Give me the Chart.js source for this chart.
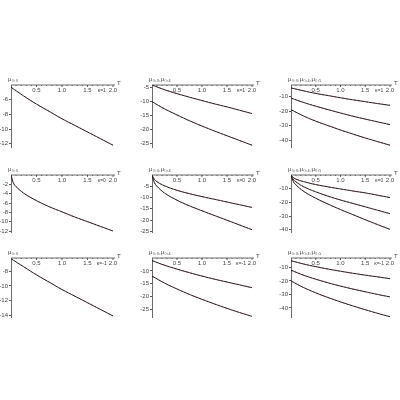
<!DOCTYPE html>
<html><head><meta charset="utf-8">
<script src="https://cdn.jsdelivr.net/npm/chart.js@4"></script>
<style>body{margin:0;background:#fff;width:400px;height:400px;position:relative;overflow:hidden}canvas{position:absolute}</style>
</head><body>
<script>
const T9 = [0,0.25,0.5,0.75,1,1.25,1.5,1.75,2];
const T11 = [0,0.05,0.1,0.25,0.5,0.75,1,1.25,1.5,1.75,2];
const xTicks = [0.5,1.0,1.5,2.0];
const titles = ["μ₀,₃","μ₀,₃,μ₀,₄","μ₀,₃,μ₀,₄,μ₀,₅"];
const kappas = ["κ=1","κ=0","κ=-1"];
// row 1 (κ=1)
const p11 = [[-4.3,-5.5,-6.6,-7.6,-8.6,-9.5,-10.4,-11.3,-12.2]];
const p12 = [[-4,-5.7,-7.1,-8.4,-9.6,-10.8,-11.9,-13.1,-14.3],[-10,-12.6,-14.8,-16.9,-18.8,-20.6,-22.3,-24.0,-25.7]];
const p13 = [[-4,-6,-7.8,-9.3,-10.8,-12.2,-13.5,-14.8,-16],[-11,-14,-16.6,-19,-21.3,-23.5,-25.5,-27.4,-29.3],[-19,-23.3,-26.9,-30,-33,-35.8,-38.5,-41,-43.5]];
// row 2 (κ=0)
const p21 = [[0,-1.8,-2.5,-3.9,-5.5,-6.8,-7.9,-9,-10,-11,-12]];
const p22 = [[0,-2,-3,-4.8,-6.8,-8.3,-9.6,-10.8,-12,-13.2,-14.4],[0,-3.5,-5,-8,-11.2,-13.7,-15.9,-18,-20.1,-22.2,-24.3]];
const p23 = [[0,-2,-3,-4.8,-7,-8.7,-10.2,-11.7,-13.1,-14.8,-16.5],[0,-3.5,-5,-8.5,-12.3,-15.5,-18.3,-20.8,-23.3,-25.8,-28.3],[0,-5,-7.2,-11.8,-17,-21.3,-25.3,-29,-32.7,-36.3,-39.8]];
// row 3 (κ=-1)
const p31 = [[-6.3,-7.4,-8.5,-9.5,-10.5,-11.4,-12.3,-13.2,-14.1]];
const p32 = [[-6,-7.8,-9.3,-10.7,-12,-13.2,-14.3,-15.4,-16.5],[-12,-14.7,-17,-19.1,-21,-22.8,-24.5,-26.1,-27.6]];
const p33 = [[-5,-7.4,-9.4,-11.2,-12.8,-14.3,-15.7,-17,-18.3],[-12,-15.7,-18.7,-21.4,-23.8,-26,-28,-30,-31.8],[-20,-24.8,-28.8,-32.3,-35.5,-38.5,-41.3,-44,-46.5]];
const yTicks = [[-6,-8,-10,-12],[-5,-10,-15,-20,-25],[-10,-20,-30,-40],
                [-2,-4,-6,-8,-10,-12],[-5,-10,-15,-20,-25],[-10,-20,-30,-40],
                [-8,-10,-12,-14],[-10,-15,-20,-25],[-10,-20,-30,-40]];
const yRange = [[-4,-12.5],[-4,-26.5],[-2,-45],[0,-12.3],[0,-25.5],[0,-42],[-6.2,-14.3],[-5,-28],[-3,-47]];
const panels = [p11,p12,p13,p21,p22,p23,p31,p32,p33];

const colL = [0,135,272], colAx=[11,152,291], colR=[113,252,390];
const rowTop=[85,175,258], rowBot=[150,235,320];
const F = '6px "Liberation Sans", Arial, sans-serif';

panels.forEach((series,i)=>{
  const r=Math.floor(i/3), c=i%3;
  const yW = colAx[c]-colL[c];
  const w = colR[c]-colL[c]+10, h = rowBot[r]-rowTop[r]+14;
  const cv=document.createElement('canvas');
  const wrap=document.createElement('div');
  wrap.style.cssText=`position:absolute;left:${colL[c]}px;top:${rowTop[r]-12}px;width:${w}px;height:${h}px`;
  cv.style.left='0';cv.style.top='0';
  wrap.appendChild(cv);document.body.appendChild(wrap);
  const xs = series[0].length===9?T9:T11;
  const ds=[];
  series.forEach(s=>{
    const pts=s.map((v,k)=>({x:xs[k],y:v}));
    ds.push({data:pts,borderColor:'#111',borderWidth:0.9,pointRadius:0,tension:0.4});
    ds.push({data:pts,borderColor:'#c0302a',borderWidth:0.6,borderDash:[2,2],pointRadius:0,tension:0.4});
  });
  const ticksY=yTicks[i];
  new Chart(cv,{type:'line',data:{datasets:ds},
    options:{responsive:true,maintainAspectRatio:false,animation:false,
      layout:{padding:{top:12,right:10,bottom:2,left:0}},
      plugins:{legend:{display:false},tooltip:{enabled:false}},
      scales:{
        x:{type:'linear',min:0,max:2,display:false},
        y:{min:yRange[i][1],max:yRange[i][0],
           afterFit(s){s.width=yW;},
           afterBuildTicks(s){s.ticks=ticksY.map(v=>({value:v}));},
           grid:{display:true,drawOnChartArea:false,tickLength:2,color:'#555'},
           border:{display:true,color:'#444',width:0.8},
           ticks:{font:{size:6,family:'"Liberation Sans", Arial'},color:'#444',padding:1}}
      }},
    plugins:[{id:'deco',afterDraw(ch){
      const g=ch.ctx,a=ch.chartArea,xs=ch.scales.x;
      g.save();
      g.strokeStyle='#444';g.lineWidth=0.8;
      g.beginPath();g.moveTo(a.left,a.top);g.lineTo(a.right+2,a.top);g.stroke();
      g.font=F;g.fillStyle='#444';g.textAlign='center';g.textBaseline='top';
      xTicks.forEach(t=>{const px=xs.getPixelForValue(t);
        g.beginPath();g.moveTo(px,a.top);g.lineTo(px,a.top+2);g.stroke();
        g.fillText(t.toFixed(1),px,a.top+2);});
      for(let t=0.1;t<2;t+=0.1){const px=xs.getPixelForValue(t);
        g.beginPath();g.moveTo(px,a.top);g.lineTo(px,a.top+1);g.stroke();}
      g.textAlign='left';g.textBaseline='bottom';
      g.fillText('T',a.right+4,a.top+1);
      g.textAlign='left';g.fillText(titles[c],a.left-3,a.top-3);
      g.textAlign='center';g.textBaseline='top';
      g.font='5px "Liberation Sans", Arial';
      g.fillText(kappas[r],xs.getPixelForValue(1.78),a.top+3);
      g.restore();
    }}]
  });
});
</script>
</body></html>
